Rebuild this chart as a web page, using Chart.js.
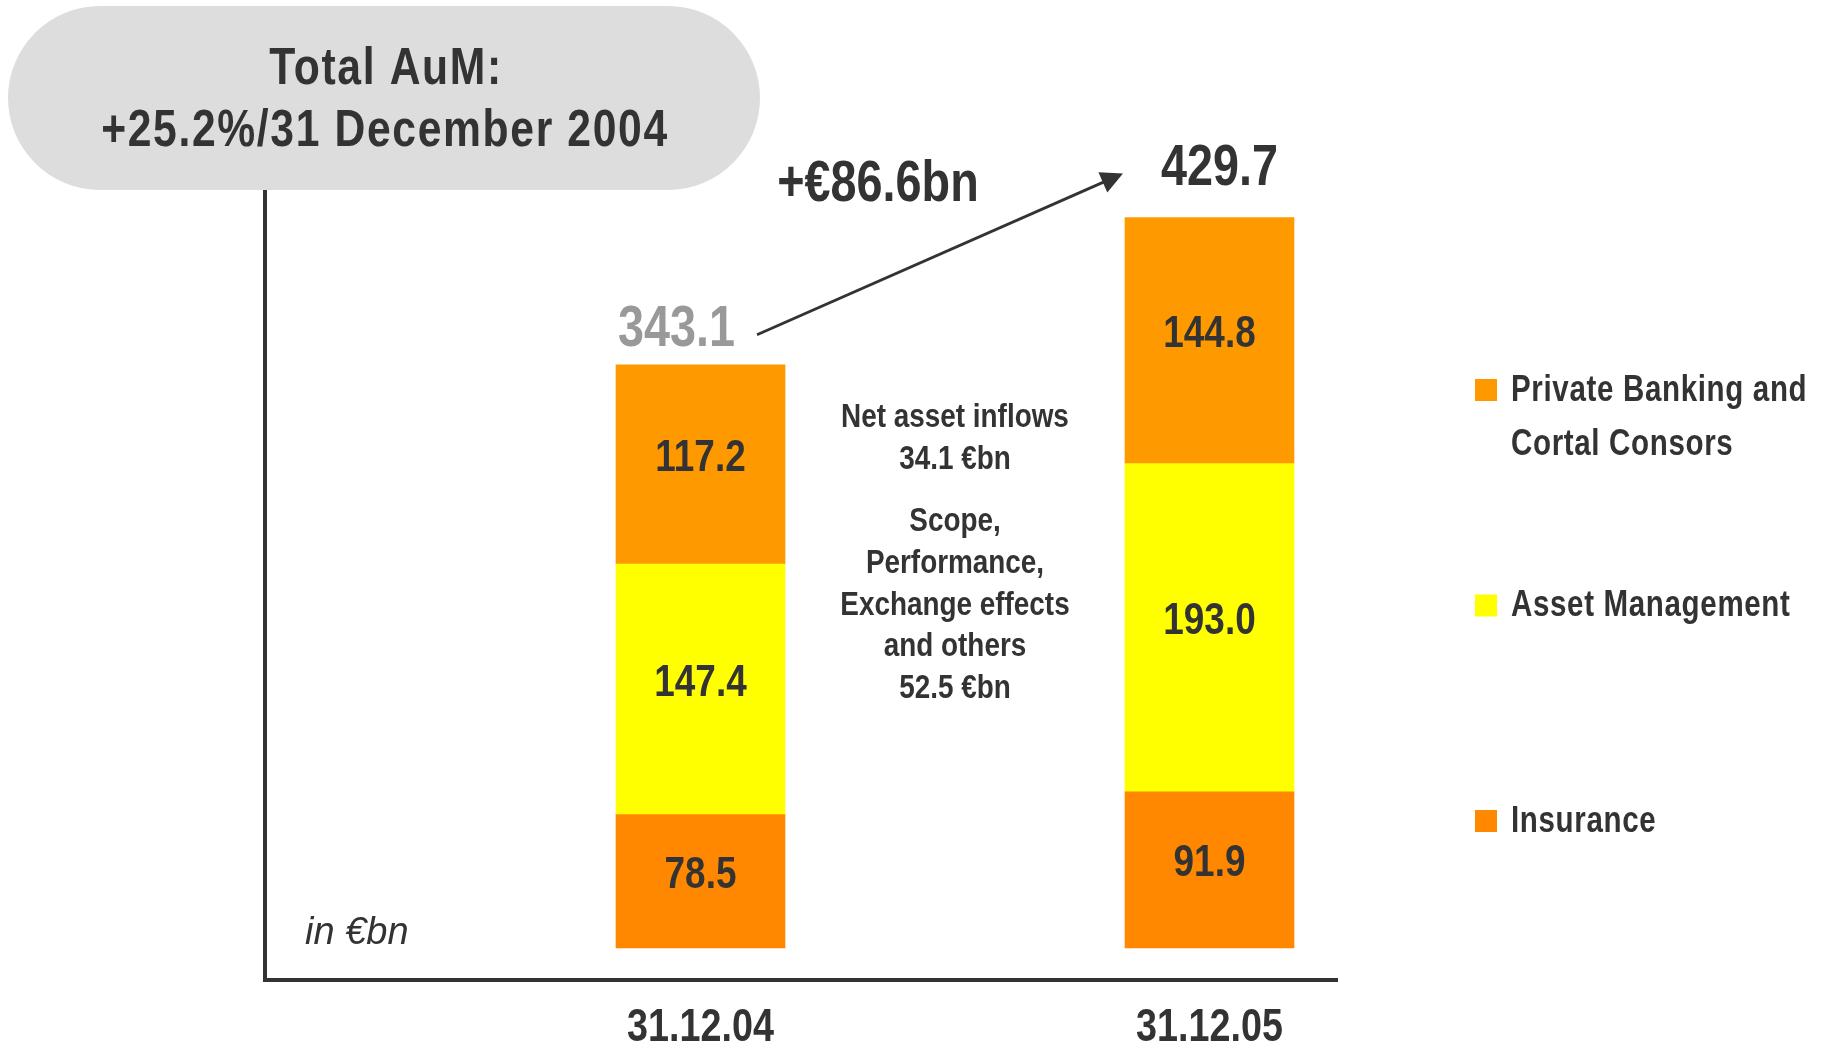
<!DOCTYPE html>
<html>
<head>
<meta charset="utf-8">
<style>
  html, body { margin: 0; padding: 0; background: #ffffff; }
  #wrap { position: relative; width: 1828px; height: 1054px; }
</style>
<script src="https://cdn.jsdelivr.net/npm/chart.js@4.4.1/dist/chart.umd.min.js"></script>
</head>
<body>
<div id="wrap"><canvas id="aum" width="1828" height="1054"></canvas></div>
<script>
// ---- data -------------------------------------------------------------
const dates = ['31.12.04', '31.12.05'];
const seriesNames = ['Insurance', 'Asset Management', 'Private Banking and Cortal Consors'];
const legendLines = [['Insurance'], ['Asset Management'], ['Private Banking and', 'Cortal Consors']];
const insurance = [78.5, 91.9];
const assetManagement = [147.4, 193.0];
const privateBanking = [117.2, 144.8];
const totals = [343.1, 429.7];
const changeLabel = '+€86.6bn';
const headline = ['Total AuM:', '+25.2%/31 December 2004'];
const notesInflows = ['Net asset inflows', '34.1 €bn'];
const notesOther = ['Scope,', 'Performance,', 'Exchange effects', 'and others', '52.5 €bn'];
const unitNote = 'in €bn';

// ---- styling ----------------------------------------------------------
const SANS = '"Liberation Sans", Arial, sans-serif';
const NARROW = 0.82;           // horizontal squeeze giving a narrow face
const INK = '#333333';
const colors = ['#FF8800', '#FFFF00', '#FF9900'];

function drawText(ctx, str, x, y, font, color, align, spacing, squeeze) {
  ctx.save();
  ctx.font = font;
  ctx.fillStyle = color;
  ctx.textAlign = align || 'center';
  ctx.textBaseline = 'middle';
  if (spacing) ctx.letterSpacing = spacing + 'px';
  ctx.translate(x, y);
  ctx.scale(squeeze === undefined ? NARROW : squeeze, 1);
  ctx.fillText(str, 0, 0);
  ctx.restore();
}

const annotations = {
  id: 'annotations',
  afterDatasetsDraw(chart) {
    const ctx = chart.ctx;
    // values inside each stacked segment
    chart.data.datasets.forEach((ds, di) => {
      chart.getDatasetMeta(di).data.forEach((el, i) => {
        const cy = (el.y + el.base) / 2 - 6;
        drawText(ctx, ds.data[i].y.toFixed(1), el.x, cy, 'bold 45px ' + SANS, INK);
      });
    });

    const topMeta = chart.getDatasetMeta(chart.data.datasets.length - 1).data;
    const b0 = topMeta[0], b1 = topMeta[1];
    const half = b0.width / 2;

    // stack totals
    drawText(ctx, totals[0].toFixed(1), b0.x - half + 2, b0.y - 34, 'bold 57px ' + SANS, '#999999', 'left');
    drawText(ctx, totals[1].toFixed(1), b1.x + 10, b1.y - 48, 'bold 57px ' + SANS, INK);

    // growth arrow between the totals
    const sx = b0.x + half - 28, sy = b0.y - 30;
    const ex = b1.x - b1.width / 2 - 2, ey = b1.y - 44;
    const ang = Math.atan2(ey - sy, ex - sx);
    const headLen = 22, headW = 11;
    const c = Math.cos(ang), s = Math.sin(ang);
    ctx.save();
    ctx.strokeStyle = INK;
    ctx.fillStyle = INK;
    ctx.lineWidth = 2.8;
    ctx.beginPath();
    ctx.moveTo(sx, sy);
    ctx.lineTo(ex - c * headLen * 0.8, ey - s * headLen * 0.8);
    ctx.stroke();
    ctx.beginPath();
    ctx.moveTo(ex, ey);
    ctx.lineTo(ex - c * headLen - s * headW, ey - s * headLen + c * headW);
    ctx.lineTo(ex - c * headLen + s * headW, ey - s * headLen - c * headW);
    ctx.closePath();
    ctx.fill();
    ctx.restore();
    drawText(ctx, changeLabel, (sx + ex) / 2 - 62, (sy + ey) / 2 - 69, 'bold 57px ' + SANS, INK);

    // bridge notes between the two bars
    const mx = (b0.x + half + b1.x - b1.width / 2) / 2;
    notesInflows.forEach((t, i) => drawText(ctx, t, mx, 418 + i * 41.5, 'bold 34px ' + SANS, INK));
    notesOther.forEach((t, i) => drawText(ctx, t, mx, 522 + i * 41.7, 'bold 34px ' + SANS, INK));

    // unit note
    drawText(ctx, unitNote, chart.chartArea.left + 40, 933, 'italic 38px ' + SANS, INK, 'left', 0, 1);

    // category labels under the axis
    const xs = chart.scales.x;
    dates.forEach((d, i) => {
      drawText(ctx, d, xs.getPixelForValue(i), 1028, 'bold 46px ' + SANS, INK);
    });
  },
  afterDraw(chart) {
    const ctx = chart.ctx;
    // headline capsule
    const x0 = 8, y0 = 6, w = 752, h = 184, r = 92;
    ctx.save();
    ctx.fillStyle = '#DDDDDD';
    ctx.beginPath();
    ctx.roundRect(x0, y0, w, h, r);
    ctx.fill();
    ctx.restore();
    drawText(ctx, headline[0], x0 + w / 2 + 2, 70, 'bold 52px ' + SANS, INK, 'center', 2);
    drawText(ctx, headline[1], x0 + w / 2 + 1, 132, 'bold 52px ' + SANS, INK, 'center', 2);

    // legend, top item first
    const lx = 1475, sq = 22;
    const order = [2, 1, 0];
    order.forEach((di, k) => {
      const cy = 390 + k * 215.5;
      ctx.fillStyle = colors[di];
      ctx.fillRect(lx, cy - sq / 2, sq, sq);
      legendLines[di].forEach((line, j) => {
        drawText(ctx, line, lx + 36, cy + 1 + j * 54, 'bold 36px ' + SANS, INK, 'left', 0.8);
      });
    });
  }
};

const series = [insurance, assetManagement, privateBanking];

new Chart(document.getElementById('aum'), {
  type: 'bar',
  data: {
    datasets: series.map((vals, di) => ({
      label: seriesNames[di],
      data: vals.map((v, i) => ({ x: i, y: v })),
      backgroundColor: colors[di],
      borderWidth: 0,
      barThickness: 169
    }))
  },
  options: {
    responsive: false,
    animation: false,
    layout: { padding: { left: 265, right: 491, top: 190, bottom: 0 } },
    plugins: { legend: { display: false }, tooltip: { enabled: false } },
    scales: {
      x: {
        type: 'linear',
        stacked: true,
        offset: false,
        min: -0.8556,
        max: 1.2505,
        grid: { display: false, drawTicks: false },
        border: { display: true, color: INK, width: 4 },
        afterBuildTicks: (s) => { s.ticks = dates.map((_, i) => ({ value: i })); },
        afterFit: (s) => { s.height = 74; },
        ticks: { display: false }
      },
      y: {
        stacked: true,
        min: -18.8,
        max: 445.9,
        grid: { display: false, drawTicks: false },
        border: { display: true, color: INK, width: 4 },
        ticks: { display: false },
        afterFit: (s) => { s.width = 0; }
      }
    }
  },
  plugins: [annotations]
});
</script>
</body>
</html>
